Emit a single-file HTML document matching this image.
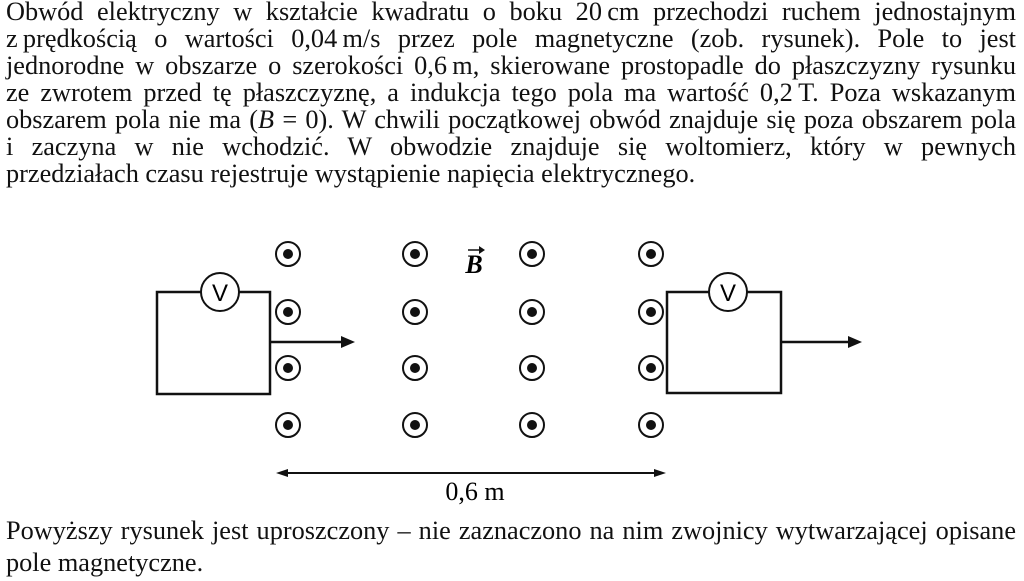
<!DOCTYPE html>
<html><head><meta charset="utf-8"><style>
body{margin:0;width:1024px;height:581px;background:#fff;overflow:hidden;position:relative;font-family:"Liberation Serif",serif;color:#111}
.l{position:absolute;left:6px;width:1010px;font-size:26.3px;line-height:27px;text-align:justify;text-align-last:justify;white-space:nowrap}
.n{text-align-last:left}
svg{position:absolute;left:0;top:0}
</style></head><body>
<div class="l" style="top:-2px">Obwód elektryczny w kształcie kwadratu o boku 20&#8239;cm przechodzi ruchem jednostajnym</div>
<div class="l" style="top:25px">z&#8239;prędkością o wartości 0,04&#8239;m/s przez pole magnetyczne (zob. rysunek). Pole to jest</div>
<div class="l" style="top:52px">jednorodne w obszarze o szerokości 0,6&#8239;m, skierowane prostopadle do płaszczyzny rysunku</div>
<div class="l" style="top:79px">ze zwrotem przed tę płaszczyznę, a indukcja tego pola ma wartość 0,2&#8239;T. Poza wskazanym</div>
<div class="l" style="top:106px">obszarem pola nie ma (<i>B</i> = 0). W chwili początkowej obwód znajduje się poza obszarem pola</div>
<div class="l" style="top:133px">i zaczyna w nie wchodzić. W obwodzie znajduje się woltomierz, który w pewnych</div>
<div class="l n" style="top:160px">przedziałach czasu rejestruje wystąpienie napięcia elektrycznego.</div>
<div class="l" style="top:517px">Powyższy rysunek jest uproszczony – nie zaznaczono na nim zwojnicy wytwarzającej opisane</div>
<div class="l n" style="top:549px">pole magnetyczne.</div>
<svg width="1024" height="581" viewBox="0 0 1024 581">
<defs><g id="d"><circle r="12" fill="#fff" stroke="#111" stroke-width="2"/><circle r="5" fill="#111"/></g></defs>
<g>
<use href="#d" x="288" y="254"/><use href="#d" x="288" y="312"/><use href="#d" x="288" y="368"/><use href="#d" x="288" y="425"/>
<use href="#d" x="415" y="254"/><use href="#d" x="415" y="312"/><use href="#d" x="415" y="368"/><use href="#d" x="415" y="425"/>
<use href="#d" x="532" y="254"/><use href="#d" x="532" y="312"/><use href="#d" x="532" y="368"/><use href="#d" x="532" y="425"/>
<use href="#d" x="651" y="254"/><use href="#d" x="651" y="312"/><use href="#d" x="651" y="368"/><use href="#d" x="651" y="425"/>
</g>
<g fill="none" stroke="#111" stroke-width="2.5">
<rect x="157" y="292" width="113" height="102"/>
<rect x="667" y="292" width="114" height="101"/>
<line x1="270" y1="342" x2="343" y2="342"/>
<line x1="781" y1="342" x2="850" y2="342"/>
<line x1="285" y1="473" x2="657" y2="473" stroke-width="2"/>
</g>
<circle cx="220" cy="292" r="19" fill="#fff" stroke="#111" stroke-width="2"/>
<circle cx="728" cy="292" r="19" fill="#fff" stroke="#111" stroke-width="2"/>
<text x="220" y="301" font-family="Liberation Sans,sans-serif" font-size="24" text-anchor="middle">V</text>
<text x="728" y="301" font-family="Liberation Sans,sans-serif" font-size="24" text-anchor="middle">V</text>
<polygon points="355,342 341,336 341,348" fill="#111"/>
<polygon points="862,342 848,336 848,348" fill="#111"/>
<polygon points="276,473 288,469 288,477" fill="#111"/>
<polygon points="666,473 654,469 654,477" fill="#111"/>
<text x="474" y="273" font-size="26" font-style="italic" font-weight="bold" text-anchor="middle">B</text>
<line x1="468" y1="250" x2="482" y2="250" stroke="#111" stroke-width="1.5"/>
<polygon points="485,250 479,246 479,254" fill="#111"/>
<text x="475" y="500" font-size="26" text-anchor="middle">0,6 m</text>
</svg>
</body></html>
